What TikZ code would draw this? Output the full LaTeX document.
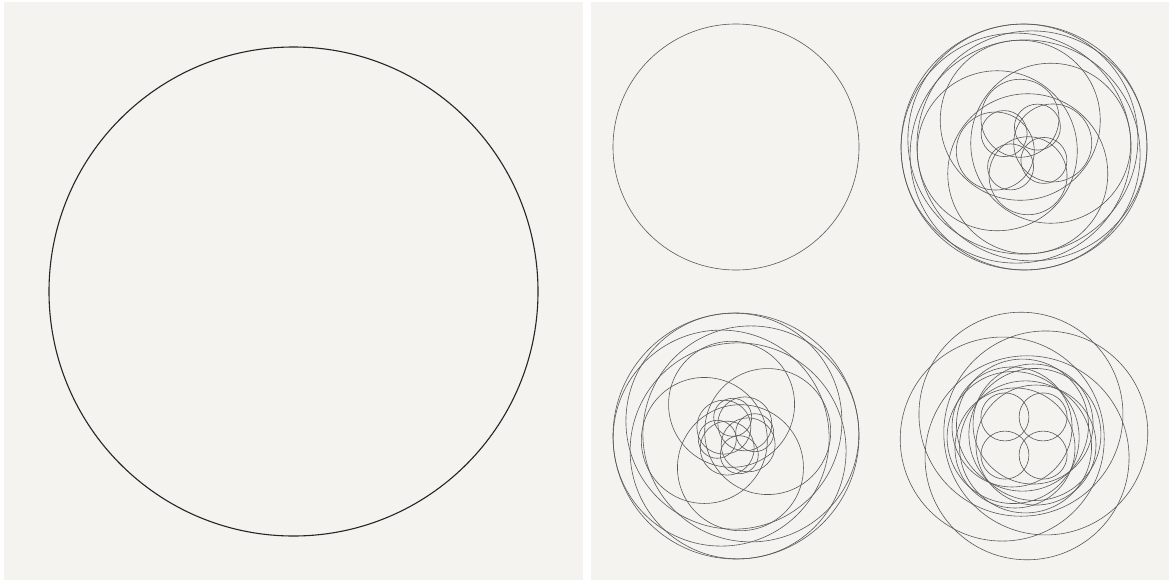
\documentclass[tikz,border=0pt]{standalone}
\begin{document}
\begin{tikzpicture}[x=1pt,y=-1pt,
  panel/.style={fill=bgc,draw=none},
  bigc/.style={draw=black!85,line width=1.1pt},
  thin/.style={draw=black!65,line width=0.6pt}]
\definecolor{bgc}{HTML}{F4F3EF}
\newcommand{\pinw}[3]{\foreach \k in {0,90,180,270}{\draw[thin] (-#3-\k:#2) circle (#1);}}
\fill[white] (0,0) rectangle (1169,581);
\useasboundingbox (0,0) rectangle (1169,581);
\fill[panel] (4,2) rectangle (583,580);
\fill[panel] (591,2) rectangle (1169,580);
% left
\draw[bigc] (293.5,291.5) circle (244.5);
% top-left
\draw[thin] (736,147) circle (123);
% top-right
\begin{scope}[shift={(1024,147)}]
\draw[thin] (0,0) circle (123);
\pinw{115}{8}{8}
\pinw{80}{27}{8}
\pinw{39}{29}{8}
\pinw{23}{24}{56}
\end{scope}
% bottom-left
\begin{scope}[shift={(736,436)}]
\draw[thin] (0,0) circle (123);
\pinw{108}{15}{8}
\pinw{63}{32}{8}
\pinw{27}{15}{54}
\pinw{19}{19}{10}
\end{scope}
% bottom-right
\begin{scope}[shift={(1024,436)}]
\pinw{102}{22}{8}
\pinw{66}{11}{8}
\pinw{60}{15}{53}
\pinw{24}{27}{45}
\end{scope}
\end{tikzpicture}
\end{document}
